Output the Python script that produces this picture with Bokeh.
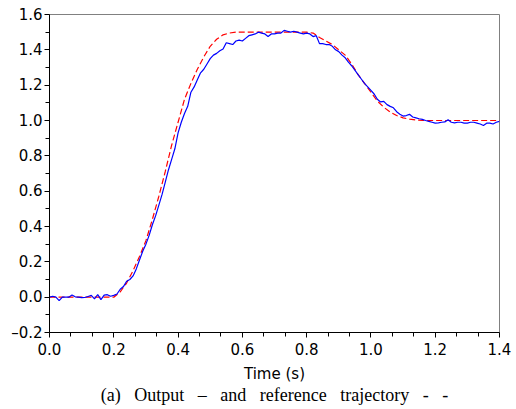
from bokeh.plotting import figure
from bokeh.models import Range1d, FixedTicker, CustomJSTickFormatter, Title, ColumnDataSource
from bokeh.embed import file_html
from bokeh.resources import INLINE

# Reference trajectory (red dashed), sampled every 0.02 s
ref_t = [round(0.02 * i, 2) for i in range(71)]
ref_y = [0.0, 0.0, 0.0, 0.0, 0.0, 0.0, 0.0, 0.0, 0.0, 0.0, 0.0,
         0.03, 0.08, 0.15, 0.23, 0.32, 0.44, 0.57, 0.71, 0.86, 0.99,
         1.12, 1.21, 1.29, 1.36, 1.42, 1.46, 1.485, 1.495, 1.50, 1.50,
         1.50, 1.50, 1.50, 1.50, 1.50, 1.50, 1.50, 1.50, 1.50, 1.50,
         1.495, 1.47, 1.45, 1.43, 1.40, 1.37, 1.32, 1.26, 1.21, 1.16,
         1.11, 1.075, 1.048, 1.028, 1.015, 1.008, 1.003, 1.0, 1.0, 1.0,
         1.0, 1.0, 1.0, 1.0, 1.0, 1.0, 1.0, 1.0, 1.0, 1.0]

# Measured output (blue solid), sampled every 0.01 s
out_t = [round(0.01 * i, 2) for i in range(141)]
out_y = [0.00, 0.005, 0.0, -0.02, 0.0, 0.0, 0.0, 0.012, 0.002, 0.0,
         -0.003, -0.002, 0.004, 0.01, -0.01, 0.015, -0.014, 0.012, 0.014, 0.005,
         0.01, 0.018, 0.045, 0.06, 0.09, 0.10, 0.12, 0.16, 0.21, 0.26,
         0.30, 0.35, 0.41, 0.46, 0.52, 0.58, 0.65, 0.72, 0.78, 0.84,
         0.93, 0.99, 1.04, 1.08, 1.16, 1.19, 1.23, 1.27, 1.29, 1.32,
         1.35, 1.37, 1.38, 1.395, 1.405, 1.44, 1.435, 1.43, 1.45, 1.455,
         1.45, 1.465, 1.48, 1.485, 1.49, 1.50, 1.495, 1.49, 1.475, 1.49,
         1.49, 1.495, 1.495, 1.51, 1.505, 1.50, 1.505, 1.50, 1.495, 1.49,
         1.495, 1.49, 1.475, 1.48, 1.435, 1.435, 1.43, 1.43, 1.42, 1.40,
         1.39, 1.37, 1.355, 1.33, 1.31, 1.285, 1.26, 1.235, 1.21, 1.19,
         1.17, 1.15, 1.12, 1.105, 1.108, 1.09, 1.08, 1.072, 1.05, 1.035,
         1.025, 1.028, 1.035, 1.02, 1.015, 1.01, 1.006, 1.0, 0.995, 0.99,
         0.985, 0.987, 0.99, 0.992, 1.004, 0.99, 0.987, 0.99, 0.99, 0.985,
         0.985, 0.99, 0.99, 0.985, 0.98, 0.972, 0.985, 0.985, 0.98, 0.99,
         0.995]

x_ticks = [0.0, 0.2, 0.4, 0.6, 0.8, 1.0, 1.2, 1.4]
y_ticks = [-0.2, 0.0, 0.2, 0.4, 0.6, 0.8, 1.0, 1.2, 1.4, 1.6]
x_label = "Time (s)"
caption_words = ["(a)", "Output", "\u2013", "and", "reference", "trajectory", "-", "-"]

gap = " \u00a0\u00a0"
caption = gap.join(caption_words)

# minor ticks: 3 intervals per major on x, 2 on y
x_minor = [x_ticks[i] + k * (x_ticks[i + 1] - x_ticks[i]) / 3
           for i in range(len(x_ticks) - 1) for k in (1, 2)]
y_minor = [(y_ticks[i] + y_ticks[i + 1]) / 2 for i in range(len(y_ticks) - 1)]

p = figure(width=516, height=409, output_backend="svg", toolbar_location=None,
           x_range=Range1d(0, 1.4), y_range=Range1d(-0.2, 1.6),
           min_border_left=49, min_border_right=17, min_border_top=14,
           min_border_bottom=77)

p.grid.visible = False
p.outline_line_color = "#808080"
p.outline_line_width = 1

ref_src = ColumnDataSource(dict(t=ref_t, y=ref_y))
out_src = ColumnDataSource(dict(t=out_t, y=out_y))
p.line("t", "y", source=ref_src, line_color="#FF0000", line_width=1.2, line_dash="6 3")
p.line("t", "y", source=out_src, line_color="#0000FF", line_width=1.2)

fmt = CustomJSTickFormatter(code="""
const v = Math.round(tick * 10) / 10;
return (v < 0 ? '\\u2013' : '') + Math.abs(v).toFixed(1);
""")

p.xaxis.ticker = FixedTicker(ticks=x_ticks, minor_ticks=x_minor)
p.yaxis.ticker = FixedTicker(ticks=y_ticks, minor_ticks=y_minor)
p.xaxis.formatter = fmt
p.yaxis.formatter = fmt

for ax in (p.xaxis[0], p.yaxis[0]):
    ax.axis_line_color = "black"
    ax.major_tick_line_color = "black"
    ax.minor_tick_line_color = "black"
    ax.major_tick_out = 5
    ax.major_tick_in = 0
    ax.minor_tick_out = 4
    ax.minor_tick_in = 0
    ax.major_label_text_font = "DejaVu Sans"
    ax.major_label_text_font_size = "15px"
    ax.major_label_text_color = "black"

p.yaxis.major_label_standoff = 2
p.xaxis.major_label_standoff = 5
p.xaxis.axis_label = x_label
p.xaxis.axis_label_text_font = "DejaVu Sans"
p.xaxis.axis_label_text_font_size = "15px"
p.xaxis.axis_label_text_font_style = "normal"
p.xaxis.axis_label_text_color = "black"
p.xaxis.axis_label_standoff = 7

cap = Title(text=caption, align="center", text_font="Liberation Serif",
            text_font_size="18px", text_font_style="normal", text_color="black",
            standoff=-5, offset=0)
p.add_layout(cap, "below")

open("out.html", "w").write(file_html(p, INLINE))
